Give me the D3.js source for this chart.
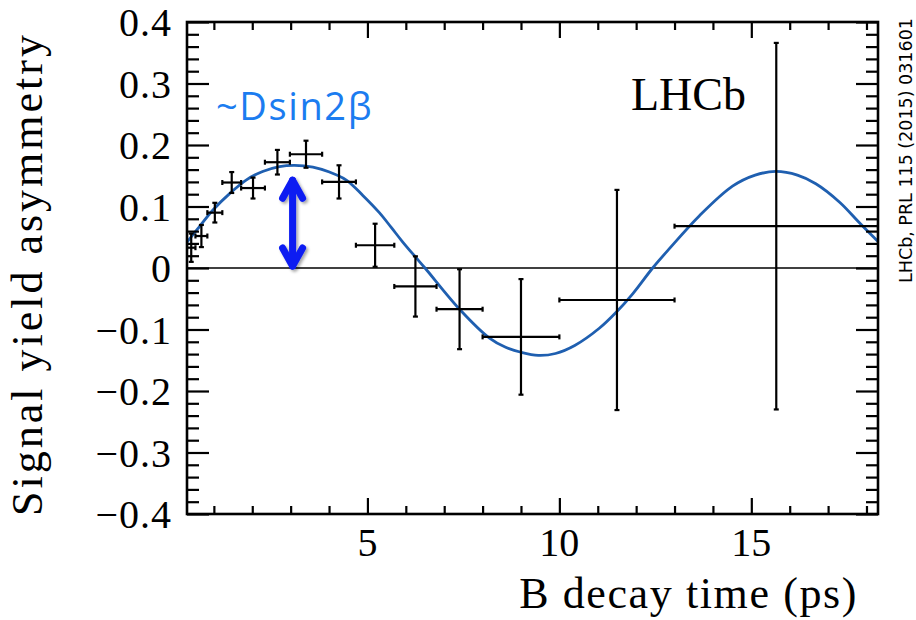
<!DOCTYPE html>
<html><head><meta charset="utf-8">
<script src="https://cdn.jsdelivr.net/npm/d3@7"></script>
<style>
html,body{margin:0;padding:0;background:#fff;}
svg{display:block;}
</style></head>
<body>
<svg id="chart" width="916" height="620"></svg>
<script>
// ---- data ----
const binLo = [0.30, 0.52, 0.83, 1.22, 1.71, 2.33, 2.98, 3.82, 4.70, 5.70, 6.80, 8.00, 10.00, 13.00];
const binHi = [0.52, 0.83, 1.22, 1.71, 2.33, 2.98, 3.82, 4.70, 5.70, 6.80, 8.00, 10.00, 13.00, 18.30];
const asym  = [0.033, 0.052, 0.090, 0.139, 0.130, 0.172, 0.185, 0.140, 0.037, -0.030, -0.067, -0.112, -0.052, 0.068];
const asymErr = [0.023, 0.018, 0.016, 0.017, 0.017, 0.020, 0.022, 0.027, 0.035, 0.049, 0.065, 0.094, 0.179, 0.298];

const fitT = [0.30, 0.62, 0.97, 1.41, 1.84, 2.27, 2.71, 3.10, 3.58, 4.01, 4.45, 4.88, 5.31, 5.62, 5.91, 6.25, 6.50, 7.40, 8.18, 8.60, 9.00, 9.45, 9.90, 10.40, 11.04, 11.48, 11.91, 12.43, 12.86, 13.65, 14.51, 15.10, 15.64, 16.20, 16.68, 17.30, 17.81, 18.30];
const fitA = [0.042, 0.067, 0.094, 0.121, 0.143, 0.157, 0.165, 0.167, 0.164, 0.156, 0.143, 0.118, 0.090, 0.066, 0.043, 0.018, 0.000, -0.067, -0.114, -0.129, -0.137, -0.142, -0.139, -0.126, -0.098, -0.072, -0.042, 0.000, 0.031, 0.085, 0.133, 0.151, 0.157, 0.151, 0.137, 0.107, 0.074, 0.043];

const xMajorTicks = [5, 10, 15];
const xMajorLabels = ["5", "10", "15"];
const xMinorTicks = [1,2,3,4,6,7,8,9,11,12,13,14,16,17,18];
const yMajorTicks = [0.4, 0.3, 0.2, 0.1, 0, -0.1, -0.2, -0.3, -0.4];
const yMajorLabels = ["0.4", "0.3", "0.2", "0.1", "0", "\u22120.1", "\u22120.2", "\u22120.3", "\u22120.4"];
const yMinorTicks = d3.range(-40, 41, 2).filter(v => v % 10 !== 0).map(v => v / 100);

const arrowT = 3.05, arrowLo = 0.0, arrowHi = 0.146;

// ---- layout ----
const L = 187, R = 878, T = 22, B = 514;
const svg = d3.select("#chart");
const x = d3.scaleLinear().domain([0.30, 18.30]).range([L, R]);
const y = d3.scaleLinear().domain([-0.4, 0.4]).range([B, T]);

const defs = svg.append("defs");
defs.append("clipPath").attr("id", "clip").append("rect")
  .attr("x", L).attr("y", T).attr("width", R - L).attr("height", B - T);
const f = defs.append("filter").attr("id", "shadow").attr("x", "-50%").attr("y", "-20%").attr("width", "200%").attr("height", "140%");
f.append("feDropShadow").attr("dx", 2).attr("dy", 2).attr("stdDeviation", 1.5).attr("flood-color", "#000").attr("flood-opacity", 0.35);

const serif = "'Liberation Serif', 'Times New Roman', serif";

// zero line
svg.append("line").attr("x1", L).attr("x2", R).attr("y1", y(0)).attr("y2", y(0))
  .attr("stroke", "#000").attr("stroke-width", 1.6);

// fit curve
const plot = svg.append("g").attr("clip-path", "url(#clip)");
plot.append("path")
  .datum(fitT.map((t, i) => [t, fitA[i]]))
  .attr("fill", "none").attr("stroke", "#1f5fb0").attr("stroke-width", 2.8)
  .attr("d", d3.line().x(d => x(d[0])).y(d => y(d[1])).curve(d3.curveCatmullRom.alpha(0.5)));

// data points with error bars
const pts = plot.append("g").attr("stroke", "#000").attr("stroke-width", 2.2).attr("fill", "none");
asym.forEach((a, i) => {
  const xc = x((binLo[i] + binHi[i]) / 2);
  const x1 = x(binLo[i]), x2 = x(binHi[i]);
  const yc = y(a), y1 = y(a + asymErr[i]), y2 = y(a - asymErr[i]);
  pts.append("line").attr("x1", x1).attr("x2", x2).attr("y1", yc).attr("y2", yc);
  pts.append("line").attr("x1", xc).attr("x2", xc).attr("y1", y1).attr("y2", y2);
  pts.append("line").attr("x1", x1).attr("x2", x1).attr("y1", yc - 2.5).attr("y2", yc + 2.5);
  pts.append("line").attr("x1", x2).attr("x2", x2).attr("y1", yc - 2.5).attr("y2", yc + 2.5);
  pts.append("line").attr("x1", xc - 2.5).attr("x2", xc + 2.5).attr("y1", y1).attr("y2", y1);
  pts.append("line").attr("x1", xc - 2.5).attr("x2", xc + 2.5).attr("y1", y2).attr("y2", y2);
});

// axes (ticks inside, mirrored)
function styleAxis(g) { g.select(".domain").remove(); g.selectAll(".tick line").attr("stroke", "#000").attr("stroke-width", 2.2); g.selectAll("text").remove(); }
svg.append("g").attr("transform", `translate(0,${B})`).call(d3.axisBottom(x).tickValues(xMajorTicks).tickSize(-16)).call(styleAxis);
svg.append("g").attr("transform", `translate(0,${B})`).call(d3.axisBottom(x).tickValues(xMinorTicks).tickSize(-8)).call(styleAxis);
svg.append("g").attr("transform", `translate(0,${T})`).call(d3.axisTop(x).tickValues(xMajorTicks).tickSize(-16)).call(styleAxis);
svg.append("g").attr("transform", `translate(0,${T})`).call(d3.axisTop(x).tickValues(xMinorTicks).tickSize(-8)).call(styleAxis);
svg.append("g").attr("transform", `translate(${L},0)`).call(d3.axisLeft(y).tickValues(yMajorTicks).tickSize(-22)).call(styleAxis);
svg.append("g").attr("transform", `translate(${L},0)`).call(d3.axisLeft(y).tickValues(yMinorTicks).tickSize(-12)).call(styleAxis);
svg.append("g").attr("transform", `translate(${R},0)`).call(d3.axisRight(y).tickValues(yMajorTicks).tickSize(-22)).call(styleAxis);
svg.append("g").attr("transform", `translate(${R},0)`).call(d3.axisRight(y).tickValues(yMinorTicks).tickSize(-12)).call(styleAxis);

// frame
svg.append("rect").attr("x", L).attr("y", T).attr("width", R - L).attr("height", B - T)
  .attr("fill", "none").attr("stroke", "#000").attr("stroke-width", 2.6);

// tick labels
svg.append("g").selectAll("text").data(yMajorTicks).join("text")
  .attr("x", 172).attr("y", d => y(d)).attr("dy", "0.36em")
  .attr("text-anchor", "end").attr("font-family", serif).attr("font-size", 40).attr("letter-spacing", 1)
  .text((d, i) => yMajorLabels[i]);
svg.append("g").selectAll("text").data(xMajorTicks).join("text")
  .attr("x", d => x(d)).attr("y", 556)
  .attr("text-anchor", "middle").attr("font-family", serif).attr("font-size", 40)
  .text((d, i) => xMajorLabels[i]);

// axis titles
svg.append("text").attr("x", 858).attr("y", 608).attr("text-anchor", "end")
  .attr("font-family", serif).attr("font-size", 44).attr("letter-spacing", 1.6)
  .text("B decay time (ps)");
svg.append("text").attr("transform", "translate(42,274) rotate(-90)").attr("text-anchor", "middle")
  .attr("font-family", serif).attr("font-size", 44).attr("letter-spacing", 3)
  .text("Signal yield asymmetry");

// LHCb label
svg.append("text").attr("x", 631).attr("y", 110).attr("font-family", serif).attr("font-size", 46)
  .text("LHCb");

// reference note on the right
svg.append("text").attr("transform", "translate(912,283) rotate(-90)")
  .attr("font-family", "'DejaVu Sans', sans-serif").attr("font-size", 17.5)
  .text("LHCb, PRL 115 (2015) 031601");

// ~Dsin2β annotation and arrow
svg.append("text").attr("x", 216).attr("y", 120).attr("font-family", "'Open Sans', sans-serif")
  .attr("font-size", 38).attr("letter-spacing", 1.6).attr("fill", "#1b7cf0").text("~Dsin2\u03b2");

const ax = x(arrowT), ayTop = y(arrowHi) + 2, ayBot = y(arrowLo) - 2;
const arrow = svg.append("g").attr("stroke", "#0a1cf2").attr("stroke-width", 7).attr("fill", "none")
  .attr("stroke-linecap", "round").attr("stroke-linejoin", "round").attr("filter", "url(#shadow)");
arrow.append("line").attr("x1", ax).attr("x2", ax).attr("y1", ayTop).attr("y2", ayBot);
arrow.append("polyline").attr("points", `${ax - 10},${ayTop + 18} ${ax},${ayTop} ${ax + 10},${ayTop + 18}`);
arrow.append("polyline").attr("points", `${ax - 10},${ayBot - 18} ${ax},${ayBot} ${ax + 10},${ayBot - 18}`);
</script>
</body></html>
